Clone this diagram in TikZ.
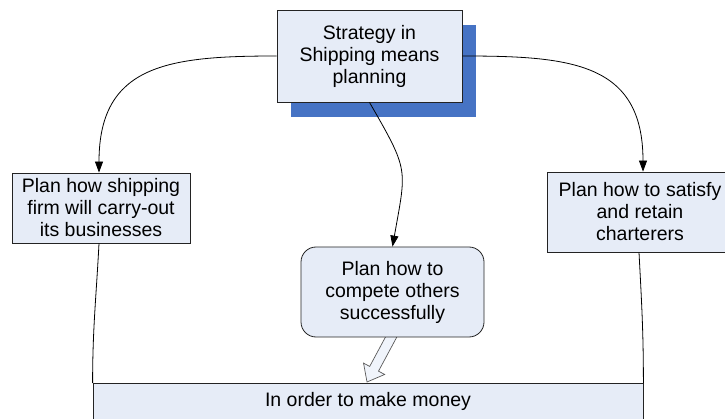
\documentclass[tikz,border=0pt]{standalone}
\usepackage{fontspec}
\setmainfont{Liberation Sans}
\usetikzlibrary{arrows.meta,calc}
\definecolor{boxfill}{RGB}{230,236,247}
\definecolor{shadowblue}{RGB}{70,115,196}
\definecolor{boxline}{RGB}{35,35,35}
\definecolor{hollowfill}{RGB}{240,244,251}
\definecolor{hollowline}{RGB}{90,90,90}
\begin{document}
\begin{tikzpicture}[x=1pt,y=1pt,
  every node/.style={font=\fontsize{19.5}{22}\selectfont, align=center, inner sep=0pt},
  planbox/.style={draw=boxline, line width=0.8pt, fill=boxfill},
  flow/.style={draw=black, line width=0.8pt, -{Triangle[length=11pt,width=8pt]}},
  link/.style={draw=black, line width=0.8pt},
  ]
\useasboundingbox (0,0) rectangle (725,-419);
\clip (0,0) rectangle (725,-419);

% top box with its offset shadow
\fill[shadowblue] (291,-25) rectangle (476,-117);
\node[planbox, minimum width=185, minimum height=92] (top) at (369.5,-56)
  {Strategy in\\Shipping means\\planning};

% the three plans
\node[planbox, minimum width=178, minimum height=70] (left) at (101,-208)
  {Plan how shipping\\firm will carry-out\\its businesses};
\node[planbox, minimum width=186, minimum height=80] (right) at (640,-212)
  {Plan how to satisfy\\and retain\\charterers};

% goal box (runs past the lower edge)
\node[planbox, anchor=north, minimum width=550, minimum height=42,
      text height=14pt, text depth=10pt] (money) at (368,-383)
  {In order to make money};

% hollow block arrow from the middle plan to the goal
\coordinate (T) at ([xshift=-1pt,yshift=1pt]money.north);
\coordinate (S) at (396,-328);
\coordinate (B) at ($(T)!15pt!(S)$);
\filldraw[fill=hollowfill, draw=hollowline, line width=0.7pt, line join=miter]
  (T) -- ($(B)!12pt!90:(S)$) -- ($(B)!5pt!90:(S)$) -- ($(S)!5pt!-90:(B)$)
  -- ($(S)!5pt!90:(B)$) -- ($(B)!5pt!-90:(S)$) -- ($(B)!12pt!-90:(S)$) -- cycle;

\node[planbox, rounded corners=15pt, minimum width=183, minimum height=90] (mid) at (392.5,-292)
  {Plan how to\\compete others\\successfully};

% connectors
\draw[flow] (top.west) to[out=180, in=90, looseness=1.3] ([xshift=-2pt]left.north);
\draw[flow] (top.east) to[out=0, in=90, looseness=1.3] ([xshift=3pt]right.north);
\draw[flow] (top.south) to[out=-60, in=80, looseness=1.4] (mid.north);
\draw[link] ([xshift=-2pt]left.south) to[out=-93, in=90] (money.north west);
\draw[link] ([xshift=-1pt]right.south) to[out=-87, in=90] (money.north east);
\end{tikzpicture}
\end{document}
